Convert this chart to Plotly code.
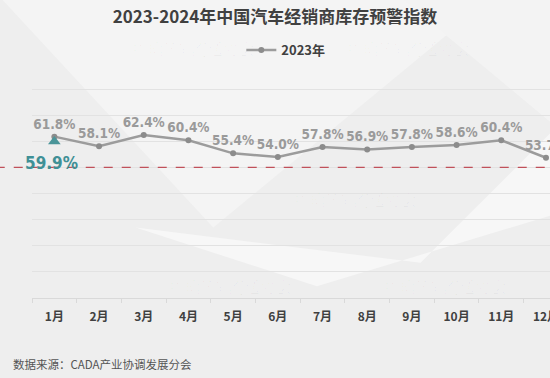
import plotly.graph_objects as go

months = ["1月", "2月", "3月", "4月", "5月", "6月", "7月", "8月", "9月", "10月", "11月", "12月"]
values_2023 = [61.8, 58.1, 62.4, 60.4, 55.4, 54.0, 57.8, 56.9, 57.8, 58.6, 60.4, 53.7]
months_2024 = ["1月"]
values_2024 = [59.9]
warning_line = 50
title_text = "2023-2024年中国汽车经销商库存预警指数"
source_text = "数据来源：CADA产业协调发展分会"

narrow = "DejaVu Sans Condensed, Liberation Sans Narrow, Arial Narrow, sans-serif"

fig = go.Figure()

fig.add_trace(go.Scatter(
    x=months, y=values_2023, name="2023年", mode="lines+markers+text",
    line=dict(color="#9c9c9c", width=2.5),
    marker=dict(color="#8c8c8c", size=6),
    text=[f"{v:.1f}%" for v in values_2023], textposition="top center",
    textfont=dict(family=narrow, size=13.5, color="#9a9a9a", weight="bold"),
    cliponaxis=False,
))
fig.add_trace(go.Scatter(
    x=months_2024, y=values_2024, name="2024年", mode="markers", showlegend=False,
    marker=dict(color="#4a9599", size=11, symbol="triangle-up"),
    cliponaxis=False,
))

shapes = [
    dict(type="path", xref="paper", yref="paper", layer="below",
         path="M -0.07 1.3 L 0.35 0.3 L 0.9 1.3 Z", fillcolor="#f4f4f4", line=dict(width=0)),
    dict(type="path", xref="paper", yref="paper", layer="below",
         path="M 0.2 0.3 L 0.55 0.05 L 1.0 0.35 L 1.0 0.7 L 0.75 0.15 Z", fillcolor="#f7f7f7", line=dict(width=0)),
    dict(type="path", xref="paper", yref="paper", layer="below",
         path="M 0.7 1.3 L 1.0 0.75 L 1.0 1.3 Z", fillcolor="#f3f3f3", line=dict(width=0)),
    dict(type="line", xref="paper", yref="y", x0=-0.07, x1=1.0, y0=warning_line, y1=warning_line,
         line=dict(color="#c0505a", width=1.2, dash="dash")),
]

ann = [dict(text=source_text, xref="paper", yref="paper", x=-0.04, y=-0.28, xanchor="left", yanchor="middle",
            showarrow=False, font=dict(size=11.5, color="#555555", family="Noto Sans CJK SC"))]
for m, v in zip(months_2024, values_2024):
    ann.append(dict(text=f"{v:.1f}%", x=m, y=v, xref="x", yref="y", showarrow=False, yshift=-21, xshift=-3,
                    font=dict(family=narrow, size=17, color="#3f9096", weight="bold")))
for (wx, wy) in [(0.18, 1.12), (0.85, 1.12), (0.62, 0.42), (0.25, -0.01), (0.92, -0.01)]:
    ann.append(dict(text="中国汽车流通协会", xref="paper", yref="paper", x=wx, y=wy, showarrow=False,
                    font=dict(size=16, color="rgba(0,0,0,0.03)", family="Noto Serif CJK SC, serif")))

fig.update_layout(
    width=550, height=378,
    margin=dict(l=32, r=0, t=63, b=80, autoexpand=False),
    paper_bgcolor="#eeeeee", plot_bgcolor="rgba(0,0,0,0)",
    title=dict(text=title_text, x=0.5, xref="container", xanchor="center", y=0.955, yanchor="middle",
               font=dict(size=17, color="#404040", family="Noto Sans CJK SC", weight="bold")),
    legend=dict(orientation="h", x=0.49, xanchor="center", y=1.055, yanchor="middle",
                bgcolor="rgba(0,0,0,0)", font=dict(size=13, color="#404040", family="Noto Sans CJK SC", weight="bold")),
    xaxis=dict(type="category", range=[-0.5, 11.09], tickson="boundaries", ticks="outside", ticklen=4,
               tickcolor="#d9d9d9", showline=True, linecolor="#d9d9d9", showgrid=False,
               ticklabelstandoff=8,
               tickfont=dict(size=12, color="#404040", family="Noto Sans CJK SC", weight="bold")),
    yaxis=dict(range=[0, 90], dtick=10, showticklabels=False, gridcolor="#e2e2e2", gridwidth=1,
               zeroline=False, showline=False),
    shapes=shapes, annotations=ann,
)

fig.write_html("out.html", config={"displayModeBar": False},
               post_script="document.body.style.margin='0';document.body.style.overflow='hidden';")
